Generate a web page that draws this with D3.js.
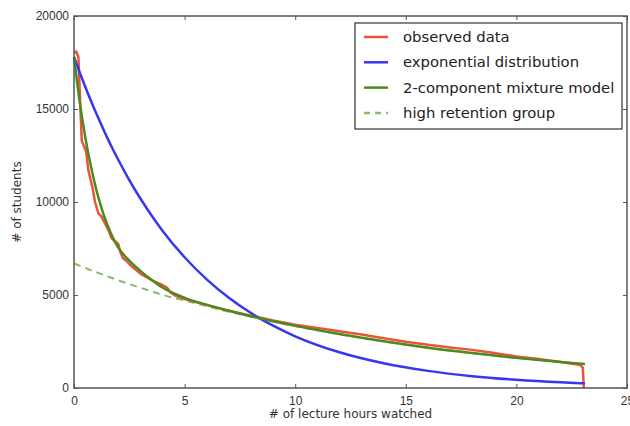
<!DOCTYPE html>
<html lang="en">
<head>
<meta charset="UTF-8">
<title>Lecture hours watched</title>
<script src="https://cdnjs.cloudflare.com/ajax/libs/d3/7.8.5/d3.min.js"></script>
<style>
    body { margin: 0; background: #fff; }
    svg { display: block; font-family: "DejaVu Sans", sans-serif; }
    .tick text { fill: #333; font-size: 12px; }
</style>
</head>
<body>
<svg width="630" height="426"></svg>
<script>
    const observedX = [0, 0.1, 0.2, 0.27, 0.35, 0.45, 0.55, 0.65, 0.75, 0.85, 0.95, 1.1, 1.25, 1.4, 1.55, 1.7, 1.85, 2.0, 2.1, 2.2, 2.4, 2.6, 2.8, 3.0, 3.3, 3.6, 3.9, 4.2, 4.35, 4.6, 5, 5.5, 6, 7, 8, 9, 10, 11, 12, 13, 14, 15, 16, 17, 18, 19, 20, 21, 22, 22.9, 23.0, 23.05];
    const observedY = [18000, 18100, 17800, 15600, 13300, 13000, 12700, 11700, 11200, 10700, 10000, 9400, 9200, 8850, 8500, 8050, 7900, 7750, 7300, 7000, 6800, 6550, 6350, 6150, 5950, 5750, 5600, 5400, 5150, 4950, 4780, 4620, 4470, 4160, 3890, 3630, 3400, 3230, 3050, 2880, 2680, 2490, 2330, 2180, 2050, 1880, 1700, 1560, 1400, 1230, 1100, 0];

    const modelX = [0, 0.25, 0.5, 0.75, 1, 1.25, 1.5, 1.75, 2, 2.5, 3, 3.5, 4, 5, 6, 7, 8, 9, 10, 12, 14, 16, 18, 20, 22, 23.1];
    const exponentialY = [17800, 16990, 16220, 15480, 14780, 14110, 13460, 12850, 12270, 11180, 10190, 9290, 8460, 7030, 5840, 4850, 4030, 3350, 2780, 1920, 1330, 920, 635, 440, 305, 250];
    const mixtureY = [17800, 15450, 13550, 12000, 10700, 9650, 8800, 8100, 7550, 6850, 6300, 5820, 5400, 4850, 4470, 4150, 3860, 3590, 3340, 2900, 2510, 2170, 1880, 1620, 1400, 1290];
    const retentionY = [6700, 6580, 6460, 6340, 6230, 6120, 6010, 5900, 5790, 5590, 5390, 5200, 5010, 4700, 4400, 4100, 3830, 3570, 3330, 2895, 2505, 2165, 1875, 1615, 1395, 1288];

    const xTicks = [0, 5, 10, 15, 20, 25];
    const yTicks = [0, 5000, 10000, 15000, 20000];

    const legendLabels = ["observed data", "exponential distribution", "2-component mixture model", "high retention group"];

    const svg = d3.select("svg");
    const margin = { left: 74, top: 16, right: 3, bottom: 38 };
    const width = 630 - margin.left - margin.right;
    const height = 426 - margin.top - margin.bottom;

    const x = d3.scaleLinear().domain([0, 25]).range([margin.left, margin.left + width]);
    const y = d3.scaleLinear().domain([0, 20000]).range([margin.top + height, margin.top]);

    const frameColor = "#555";
    const fmt = d3.format("d");

    // ticks pointing inwards on all four sides
    svg.append("g")
        .attr("transform", `translate(0,${y(0)})`)
        .call(d3.axisBottom(x).tickValues(xTicks).tickFormat(fmt).tickSizeInner(-4).tickSizeOuter(0).tickPadding(8));
    svg.append("g")
        .attr("transform", `translate(0,${y(20000)})`)
        .call(d3.axisTop(x).tickValues(xTicks).tickSizeInner(-4).tickSizeOuter(0).tickFormat(""));
    svg.append("g")
        .attr("transform", `translate(${x(0)},0)`)
        .call(d3.axisLeft(y).tickValues(yTicks).tickFormat(fmt).tickSizeInner(-4).tickSizeOuter(0).tickPadding(5));
    svg.append("g")
        .attr("transform", `translate(${x(25)},0)`)
        .call(d3.axisRight(y).tickValues(yTicks).tickSizeInner(-4).tickSizeOuter(0).tickFormat(""));

    svg.selectAll(".domain").remove();
    svg.selectAll(".tick line").attr("stroke", frameColor).attr("stroke-width", 1);

    const line = d3.line().x(d => x(d[0])).y(d => y(d[1]));
    const smooth = d3.line().x(d => x(d[0])).y(d => y(d[1])).curve(d3.curveMonotoneX);

    const plot = svg.append("g");

    plot.append("path")
        .attr("d", smooth(modelX.map((v, i) => [v, retentionY[i]])))
        .attr("fill", "none")
        .attr("stroke", "#8dba6a")
        .attr("stroke-width", 2)
        .attr("stroke-dasharray", "7,5");

    plot.append("path")
        .attr("d", line(observedX.map((v, i) => [v, observedY[i]])))
        .attr("fill", "none")
        .attr("stroke", "#e8553a")
        .attr("stroke-width", 2.5)
        .attr("stroke-linejoin", "round");

    plot.append("path")
        .attr("d", smooth(modelX.map((v, i) => [v, exponentialY[i]])))
        .attr("fill", "none")
        .attr("stroke", "#3737f0")
        .attr("stroke-width", 2.5);

    plot.append("path")
        .attr("d", smooth(modelX.map((v, i) => [v, mixtureY[i]])))
        .attr("fill", "none")
        .attr("stroke", "#4a8a1e")
        .attr("stroke-width", 2.5);

    // frame
    svg.append("rect")
        .attr("x", x(0)).attr("y", y(20000))
        .attr("width", x(25) - x(0)).attr("height", y(0) - y(20000))
        .attr("fill", "none")
        .attr("stroke", frameColor)
        .attr("stroke-width", 1.5);

    // axis labels
    svg.append("text")
        .attr("x", (x(0) + x(25)) / 2)
        .attr("y", 418)
        .attr("text-anchor", "middle")
        .attr("font-size", 12)
        .attr("fill", "#333")
        .text("# of lecture hours watched");

    svg.append("text")
        .attr("transform", `translate(21,${(y(0) + y(20000)) / 2}) rotate(-90)`)
        .attr("text-anchor", "middle")
        .attr("font-size", 12)
        .attr("fill", "#333")
        .text("# of students");

    // legend
    const legendStyles = [
        { color: "#e8553a", dash: null },
        { color: "#3737f0", dash: null },
        { color: "#4a8a1e", dash: null },
        { color: "#8dba6a", dash: "6,5" }
    ];
    const legend = svg.append("g").attr("transform", "translate(355,23)");
    legend.append("rect")
        .attr("width", 267).attr("height", 106)
        .attr("fill", "#fff")
        .attr("stroke", "#333")
        .attr("stroke-width", 1.2);
    legendLabels.forEach((label, i) => {
        const row = legend.append("g").attr("transform", `translate(0,${14 + i * 25.3})`);
        row.append("line")
            .attr("x1", 9).attr("x2", 33)
            .attr("stroke", legendStyles[i].color)
            .attr("stroke-width", 2.5)
            .attr("stroke-dasharray", legendStyles[i].dash);
        row.append("text")
            .attr("x", 48).attr("dy", "0.35em")
            .attr("font-size", 14.8)
            .attr("fill", "#222")
            .text(label);
    });
</script>
</body>
</html>
